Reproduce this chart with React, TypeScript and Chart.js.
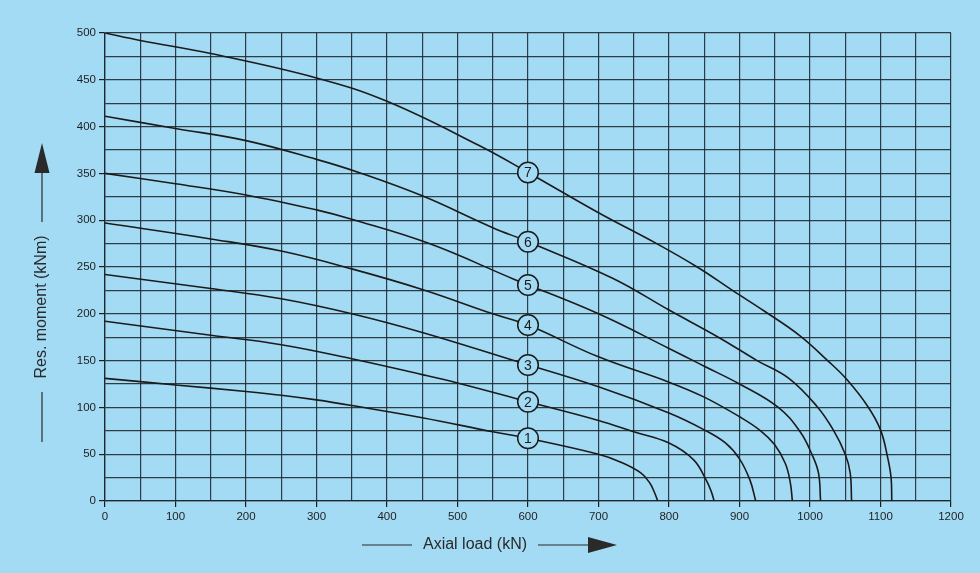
import React, { useEffect, useRef } from 'react';
import { Chart, registerables } from 'chart.js';

Chart.register(...registerables);

const BG = '#a3dbf5';
const INK = '#1b1b1b';
const GRID = 'rgba(28,38,44,0.88)';
const FONT = '"Liberation Sans", Arial, Helvetica, sans-serif';

// Curve identifiers (circled numbers)
const curveNames = ['1', '2', '3', '4', '5', '6', '7'];

// Axial load (kN) / resisting moment (kNm) per curve
const load1 = [0, 100, 200, 250, 300, 350, 450, 550, 600, 700, 730, 760, 773, 780, 784];
const moment1 = [131, 124, 117, 113, 108, 102, 89, 74, 67, 50, 42, 30, 19, 8, 0];

const load2 = [0, 150, 250, 350, 450, 500, 600, 700, 750, 800, 835, 853, 860, 864];
const moment2 = [192, 177, 167, 152, 135, 126, 106, 86, 74, 62, 44, 22, 10, 0];

const load3 = [0, 150, 250, 350, 450, 580, 700, 800, 850, 880, 900, 915, 923];
const moment3 = [242, 227, 216, 200, 180, 150, 122, 94, 76, 62, 45, 22, 0];

const load4 = [0, 150, 250, 350, 450, 550, 600, 700, 800, 850, 900, 930, 950, 965, 972, 975];
const moment4 = [297, 280, 267, 248, 226, 200, 188, 154, 127, 111, 90, 75, 60, 40, 20, 0];

const load5 = [0, 100, 200, 300, 350, 460, 580, 700, 800, 850, 900, 955, 986, 1002, 1012, 1015];
const moment5 = [350, 339, 327, 311, 301, 275, 237, 200, 163, 144, 125, 100, 74, 51, 30, 0];

const load6 = [0, 100, 200, 300, 360, 450, 550, 600, 720, 800, 870, 925, 970, 1010, 1033, 1050, 1057, 1059];
const moment6 = [411, 398, 385, 365, 351, 326, 292, 277, 238, 204, 175, 150, 131, 101, 76, 50, 30, 0];

const load7 = [0, 50, 150, 300, 400, 530, 600, 700, 780, 840, 890, 935, 985, 1025, 1052, 1082, 1100, 1110, 1115, 1116];
const moment7 = [500, 492, 478, 452, 427, 380, 351, 308, 276, 250, 225, 203, 177, 150, 130, 101, 76, 47, 25, 0];

const loads = [load1, load2, load3, load4, load5, load6, load7];
const moments = [moment1, moment2, moment3, moment4, moment5, moment6, moment7];

// Where the circled curve numbers sit
const labelLoad = 600;

// Axis ranges / ticks
const xMin = 0, xMax = 1200, xGridStep = 50, xLabelStep = 100;
const yMin = 0, yMax = 500, yGridStep = 25, yLabelStep = 50;

const xTitle = 'Axial load (kN)';
const yTitle = 'Res. moment (kNm)';

function interp(xs: number[], ys: number[], x: number): number {
  for (let i = 0; i < xs.length - 1; i++) {
    if (x >= xs[i] && x <= xs[i + 1]) {
      const t = (x - xs[i]) / (xs[i + 1] - xs[i]);
      return ys[i] + t * (ys[i + 1] - ys[i]);
    }
  }
  return ys[ys.length - 1];
}

const decor = {
  id: 'decor',
  afterDatasetsDraw(chart: any) {
    const { ctx, chartArea, scales } = chart;
    const xs = scales.x, ys = scales.y;
    ctx.save();
    // circled labels
    curveNames.forEach((name, i) => {
      const v = interp(loads[i], moments[i], labelLoad);
      const px = xs.getPixelForValue(labelLoad);
      const py = ys.getPixelForValue(v);
      ctx.beginPath();
      ctx.arc(px, py, 10.3, 0, Math.PI * 2);
      ctx.fillStyle = BG;
      ctx.fill();
      ctx.lineWidth = 1.5;
      ctx.strokeStyle = INK;
      ctx.stroke();
      ctx.fillStyle = INK;
      ctx.font = `14px ${FONT}`;
      ctx.textAlign = 'center';
      ctx.textBaseline = 'middle';
      ctx.fillText(name, px, py + 1);
    });

    ctx.strokeStyle = '#2a2a2a';
    ctx.fillStyle = '#2a2a2a';
    ctx.lineWidth = 1.2;

    // Y title with arrow
    const yx = chartArea.left - 63;
    const yc = chartArea.top + 274;
    ctx.save();
    ctx.translate(yx, yc);
    ctx.rotate(-Math.PI / 2);
    ctx.font = `16px ${FONT}`;
    ctx.textAlign = 'center';
    ctx.textBaseline = 'middle';
    ctx.fillText(yTitle, 0, 0);
    ctx.restore();
    ctx.beginPath();
    ctx.moveTo(yx, yc - 85);
    ctx.lineTo(yx, yc - 134);
    ctx.stroke();
    ctx.beginPath();
    ctx.moveTo(yx, yc - 164);
    ctx.lineTo(yx - 7.5, yc - 134);
    ctx.lineTo(yx + 7.5, yc - 134);
    ctx.closePath();
    ctx.fill();
    ctx.beginPath();
    ctx.moveTo(yx, yc + 85);
    ctx.lineTo(yx, yc + 135);
    ctx.stroke();

    // X title with arrow
    const xc = chartArea.left + 370;
    const xy = chartArea.bottom + 44;
    ctx.font = `16px ${FONT}`;
    ctx.textAlign = 'center';
    ctx.textBaseline = 'middle';
    ctx.fillText(xTitle, xc, xy);
    ctx.beginPath();
    ctx.moveTo(xc - 113, xy);
    ctx.lineTo(xc - 63, xy);
    ctx.stroke();
    ctx.beginPath();
    ctx.moveTo(xc + 63, xy);
    ctx.lineTo(xc + 114, xy);
    ctx.stroke();
    ctx.beginPath();
    ctx.moveTo(xc + 142, xy);
    ctx.lineTo(xc + 113, xy - 8);
    ctx.lineTo(xc + 113, xy + 8);
    ctx.closePath();
    ctx.fill();
    ctx.restore();
  },
};

export default function App() {
  const ref = useRef<HTMLCanvasElement | null>(null);

  useEffect(() => {
    document.body.style.margin = '0';
    const canvas = ref.current;
    if (!canvas) return;
    const datasets = curveNames.map((name, i) => ({
      label: name,
      data: loads[i].map((x, j) => ({ x, y: moments[i][j] })),
      borderColor: INK,
      borderWidth: 1.6,
      pointRadius: 0,
      fill: false,
      tension: 0.4,
    }));
    const chart = new Chart(canvas, {
      type: 'line',
      data: { datasets },
      plugins: [decor],
      options: {
        animation: false,
        responsive: true,
        maintainAspectRatio: false,
        layout: { padding: { left: 0, top: 33, right: 29, bottom: 0 } },
        plugins: { legend: { display: false }, tooltip: { enabled: false } },
        scales: {
          x: {
            type: 'linear',
            min: xMin,
            max: xMax,
            afterFit: (s: any) => { s.height = 72; },
            border: { display: true, color: GRID, width: 1.3 },
            grid: {
              color: GRID,
              lineWidth: 1.2,
              tickLength: 6,
              tickColor: (c: any) => (c.tick && c.tick.value % xLabelStep === 0 ? INK : 'rgba(0,0,0,0)'),
            },
            ticks: {
              stepSize: xGridStep,
              autoSkip: false,
              maxRotation: 0,
              padding: 3,
              color: '#1e1e1e',
              font: { family: FONT, size: 11.5 },
              callback: (v: any) => (Number(v) % xLabelStep === 0 ? String(v) : ''),
            },
          },
          y: {
            type: 'linear',
            min: yMin,
            max: yMax,
            afterFit: (s: any) => { s.width = 105; },
            border: { display: true, color: GRID, width: 1.3 },
            grid: {
              color: GRID,
              lineWidth: 1.2,
              tickLength: 6,
              tickColor: (c: any) => (c.tick && c.tick.value % yLabelStep === 0 ? INK : 'rgba(0,0,0,0)'),
            },
            ticks: {
              stepSize: yGridStep,
              autoSkip: false,
              padding: 3,
              color: '#1e1e1e',
              font: { family: FONT, size: 11.5 },
              callback: (v: any) => (Number(v) % yLabelStep === 0 ? String(v) : ''),
            },
          },
        },
      },
    });
    return () => chart.destroy();
  }, []);

  return (
    <div style={{ position: 'fixed', left: 0, top: 0, width: 980, height: 573, background: BG }}>
      <canvas ref={ref} />
    </div>
  );
}
